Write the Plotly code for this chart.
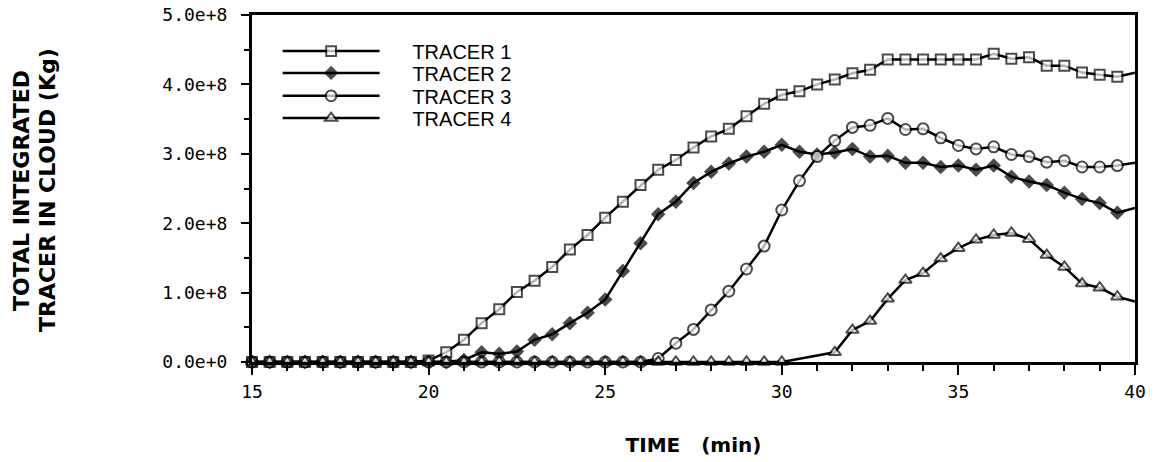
import plotly.graph_objects as go

# ---------------- data (values in units of 1e8 kg) ----------------
TIME_MIN = [15.0, 15.5, 16.0, 16.5, 17.0, 17.5, 18.0, 18.5, 19.0, 19.5,
            20.0, 20.5, 21.0, 21.5, 22.0, 22.5, 23.0, 23.5, 24.0, 24.5,
            25.0, 25.5, 26.0, 26.5, 27.0, 27.5, 28.0, 28.5, 29.0, 29.5,
            30.0, 30.5, 31.0, 31.5, 32.0, 32.5, 33.0, 33.5, 34.0, 34.5,
            35.0, 35.5, 36.0, 36.5, 37.0, 37.5, 38.0, 38.5, 39.0, 39.5,
            40.0]

TRACER_1 = [0, 0, 0, 0, 0, 0, 0, 0, 0, 0,
            0.02, 0.14, 0.32, 0.56, 0.76, 1.01, 1.17, 1.37, 1.62, 1.83,
            2.08, 2.31, 2.55, 2.77, 2.91, 3.09, 3.25, 3.36, 3.54, 3.72,
            3.85, 3.90, 4.00, 4.07, 4.16, 4.21, 4.36, 4.36, 4.36, 4.36,
            4.36, 4.36, 4.44, 4.37, 4.39, 4.27, 4.27, 4.17, 4.14, 4.11,
            4.17]

TRACER_2 = [0, 0, 0, 0, 0, 0, 0, 0, 0, 0,
            0, 0, 0.03, 0.14, 0.12, 0.15, 0.32, 0.40, 0.56, 0.71,
            0.90, 1.31, 1.71, 2.13, 2.31, 2.58, 2.74, 2.86, 2.96, 3.03,
            3.13, 3.03, 2.99, 3.02, 3.07, 2.96, 2.97, 2.87, 2.87, 2.81,
            2.83, 2.77, 2.83, 2.67, 2.60, 2.55, 2.44, 2.35, 2.29, 2.15,
            2.22]

TRACER_3 = [0, 0, 0, 0, 0, 0, 0, 0, 0, 0,
            0, 0, 0, 0, 0, 0, 0, 0, 0, 0,
            0, 0, 0, 0.05, 0.27, 0.47, 0.75, 1.02, 1.34, 1.67,
            2.19, 2.61, 2.96, 3.19, 3.38, 3.41, 3.51, 3.35, 3.36, 3.23,
            3.12, 3.07, 3.10, 2.99, 2.96, 2.88, 2.90, 2.81, 2.81, 2.83,
            2.87]

TRACER_4 = [0, 0, 0, 0, 0, 0, 0, 0, 0, 0,
            0, 0, 0, 0, 0, 0, 0, 0, 0, 0,
            0, 0, 0, 0, 0, 0, 0, 0, 0, 0,
            0, None, None, 0.14, 0.46, 0.59, 0.91, 1.18, 1.28, 1.49,
            1.64, 1.76, 1.83, 1.86, 1.77, 1.54, 1.37, 1.13, 1.07, 0.94,
            0.87]

SERIES_NAMES = ["TRACER 1", "TRACER 2", "TRACER 3", "TRACER 4"]
SERIES_VALUES = [TRACER_1, TRACER_2, TRACER_3, TRACER_4]
SCALE = 1e8

Y_TITLE_LINES = ["TOTAL INTEGRATED", "TRACER IN CLOUD (Kg)"]
X_TITLE = "TIME\u00a0\u00a0\u00a0(min)"

# ---------------- styling ----------------
MARKERS = [
    dict(symbol="square", color="white", size=10),
    dict(symbol="diamond", color="black", size=9),
    dict(symbol="circle", color="white", size=11),
    dict(symbol="triangle-up", color="white", size=11),
]
LEGEND_Y = [0.896, 0.833, 0.767, 0.703]
LEGEND_X = 0.029
Y_TITLE_X = [-0.2605, -0.231]

fig = go.Figure()
for i, (name, vals, mk) in enumerate(zip(SERIES_NAMES, SERIES_VALUES, MARKERS)):
    y = [None if v is None else v * SCALE for v in vals]
    sizes = [mk["size"]] * (len(y) - 1) + [0]
    legend_id = "legend" if i == 0 else f"legend{i + 1}"
    fig.add_trace(go.Scatter(
        x=TIME_MIN, y=y, mode="lines+markers",
        name="\u00a0" * 5 + name,
        line=dict(color="black", width=2.5),
        marker=dict(symbol=mk["symbol"], size=sizes, color=mk["color"],
                    line=dict(color="black", width=2)),
        connectgaps=True, cliponaxis=False, legend=legend_id,
    ))

legend_common = dict(
    xanchor="left", yanchor="middle", bgcolor="rgba(0,0,0,0)",
    borderwidth=0, itemwidth=97,
    font=dict(family="Liberation Sans, Arial", size=20, color="black"),
)
legends = {}
for i, ly in enumerate(LEGEND_Y):
    key = "legend" if i == 0 else f"legend{i + 1}"
    legends[key] = dict(legend_common, x=LEGEND_X, y=ly)

tick_font = dict(family="DejaVu Sans Mono", size=18, color="black")
title_font = dict(family="DejaVu Sans", size=20, color="black", weight="bold")
ytitle_font = dict(family="DejaVu Sans", size=22, color="black", weight="bold")

annotations = [
    dict(text=txt, xref="paper", yref="paper", x=xp, y=0.4957,
         xanchor="center", yanchor="middle", textangle=-90,
         showarrow=False, font=ytitle_font)
    for txt, xp in zip(Y_TITLE_LINES, Y_TITLE_X)
]

fig.update_layout(
    width=1156, height=462,
    margin=dict(l=252, r=21, t=15, b=100),
    plot_bgcolor="white", paper_bgcolor="white",
    showlegend=True,
    annotations=annotations,
    **legends,
    xaxis=dict(
        range=[15, 40], tick0=15, dtick=5, automargin=False,
        ticks="outside", ticklen=10, tickwidth=2, tickcolor="black",
        showline=True, linewidth=2.5, linecolor="black", mirror=True,
        showgrid=False, zeroline=False,
        tickfont=tick_font, ticklabelstandoff=2,
        minor=dict(dtick=1, ticks="outside", ticklen=6, tickwidth=2,
                   tickcolor="black", showgrid=False),
        title=dict(text=X_TITLE, font=title_font, standoff=37),
    ),
    yaxis=dict(
        range=[0, 5e8], tick0=0, dtick=1e8, tickformat=".1e", automargin=False,
        ticks="outside", ticklen=8, tickwidth=2, tickcolor="black",
        showline=True, linewidth=3, linecolor="black", mirror=True,
        showgrid=False, zeroline=False,
        tickfont=tick_font, ticklabelstandoff=10,
        minor=dict(dtick=0.5e8, ticks="outside", ticklen=5, tickwidth=2,
                   tickcolor="black", showgrid=False),
    ),
)

fig.write_html("out.html", config={"displayModeBar": False},
               post_script="document.body.style.margin='0px';")
